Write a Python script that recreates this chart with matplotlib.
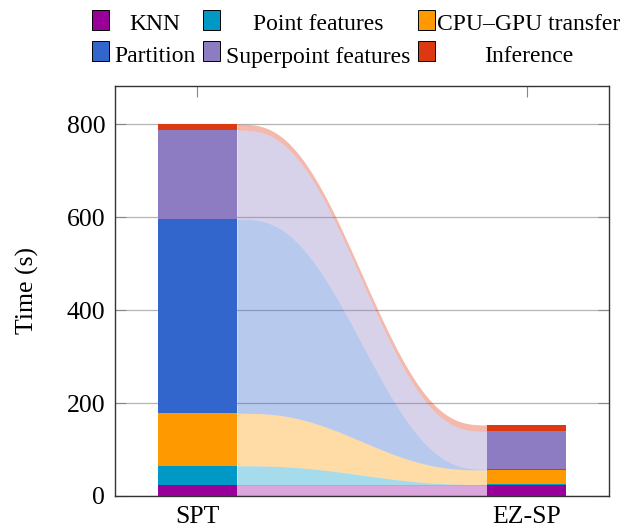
import matplotlib
matplotlib.use("Agg")
import matplotlib.pyplot as plt
from matplotlib.patches import Rectangle
import numpy as np

plt.rcParams['font.family'] = ['Liberation Serif', 'DejaVu Serif']

methods = ['SPT', 'EZ-SP']
stages = ['KNN', 'Point features', 'CPU\u2013GPU transfer',
          'Partition', 'Superpoint features', 'Inference']
colors = ['#990099', '#0099C6', '#FF9900', '#3366CC', '#8E7CC3', '#DC3912']
spt = [24, 41, 113, 418, 191, 13]
ezsp = [24, 1, 31, 2, 81, 14]

width = 0.24
x = np.arange(len(methods))

W, H = 629, 525
fig = plt.figure(figsize=(W / 100, H / 100), dpi=100)
ax = fig.add_axes([115 / W, 1 - 496 / H, 494 / W, 410 / H])

# bars
bottoms = np.zeros(2)
for name, c, a, b in zip(stages, colors, spt, ezsp):
    vals = np.array([a, b])
    ax.bar(x, vals, width, bottom=bottoms, color=c, zorder=3, linewidth=0)
    bottoms += vals

# flows between the two bars
t = np.linspace(0, 1, 200)
s = 6 * t**5 - 15 * t**4 + 10 * t**3
xs = x[0] + width / 2 + t * (x[1] - x[0] - width)
lo_a = lo_b = 0
for name, c, a, b in zip(stages, colors, spt, ezsp):
    lo = lo_a + (lo_b - lo_a) * s
    hi = (lo_a + a) + ((lo_b + b) - (lo_a + a)) * s
    ax.fill_between(xs, lo, hi, color=c, alpha=0.35, linewidth=0, zorder=2)
    lo_a += a
    lo_b += b

ax.set_xlim(-0.25, 1.25)
ax.set_ylim(0, 882)
ax.set_xticks(x)
ax.set_xticklabels(methods)
ax.set_yticks([0, 200, 400, 600, 800])
ax.tick_params(direction='in', labelsize=18.5, top=True, right=True,
               length=8, color='#888888', pad=7)
ax.grid(axis='y', color='#b4b4b4', linewidth=0.9, zorder=1)
ax.set_axisbelow(True)
ax.set_ylabel('Time (s)', fontsize=18.5)
ax.yaxis.set_label_coords(-0.154, 0.5)
for sp in ax.spines.values():
    sp.set_linewidth(1.0)
    sp.set_color('#333333')

# legend laid out like the pgfplots one: 3 columns, text centred in its cell
box_x = [92, 203, 418]
text_cx = [154.5, 318, 528.5]
row_y = [(10, 30.5), (41, 62.5)]   # box top, text baseline (pixels from top)
order = [[0, 1, 2], [3, 4, 5]]
for r, row in enumerate(order):
    top, base = row_y[r]
    for col, i in enumerate(row):
        fig.add_artist(Rectangle((box_x[col] / W, 1 - (top + 20) / H),
                                 17 / W, 20 / H, transform=fig.transFigure,
                                 facecolor=colors[i], edgecolor='black',
                                 linewidth=0.7))
        fig.text(text_cx[col] / W, 1 - base / H, stages[i], fontsize=17,
                 ha='center', va='baseline')

fig.savefig('out.png', dpi=100)
